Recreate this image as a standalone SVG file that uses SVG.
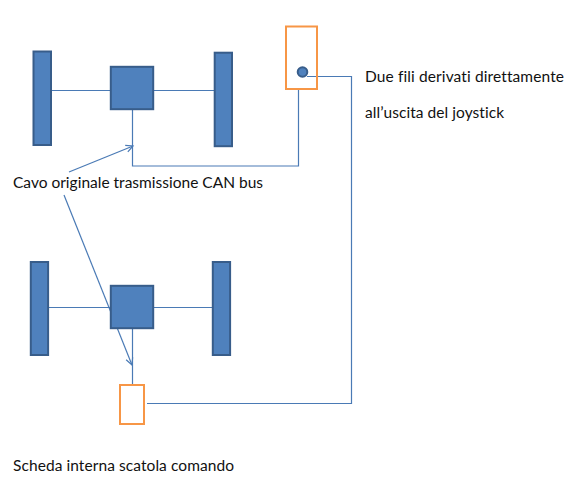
<svg xmlns="http://www.w3.org/2000/svg" width="582" height="487" viewBox="0 0 582 487">
<style>
.b{fill:#4f81bd;stroke:#385d8a;stroke-width:2}
.o{fill:#fff;stroke:#f79646;stroke-width:2}
.l{fill:none;stroke:#4a7ab5;stroke-width:1.2}
.t{font-family:Lato,"Open Sans",sans-serif;font-size:15.5px;fill:#111;font-variant-ligatures:none}
</style>
<defs><marker id="a" markerUnits="userSpaceOnUse" markerWidth="12" markerHeight="12" refX="8" refY="5" orient="auto"><path d="M1 1.500L8 5L1 8.500" fill="none" stroke="#4a7ab5" stroke-width="1.2"/></marker></defs>
<rect width="582" height="487" fill="#fff"/>
<g id="connectors">
<path class="l" d="M51 90.500H110M153 90.500H215"/>
<path class="l" d="M48 307.500H110M153 307.500H213"/>
<path class="l" d="M132.500 109V166H298.500V89"/>
<path class="l" d="M307 76.500H351.500V403.500H147"/>
<path class="l" d="M132.500 328V385"/>
<path class="l" d="M69 172L133 146" marker-end="url(#a)"/>
<path class="l" d="M64 195L132 365" marker-end="url(#a)"/>
</g>
<g id="wheel-top-left"><rect class="b" x="33.500" y="51.500" width="17.500" height="93.500"/></g>
<g id="hub-top"><rect class="b" x="110.800" y="66.800" width="42.400" height="42.400"/></g>
<g id="wheel-top-right"><rect class="b" x="214.700" y="52.700" width="17.300" height="93.500"/></g>
<g id="joystick"><rect x="286" y="26.500" width="31" height="62.500" fill="none" stroke="#f79646" stroke-width="2"/><circle class="b" cx="302.500" cy="72" r="4.800"/></g>
<g id="wheel-bottom-left"><rect class="b" x="30.800" y="262" width="17.300" height="93"/></g>
<g id="hub-bottom"><rect class="b" x="110.800" y="285.800" width="42.400" height="42.400"/></g>
<g id="wheel-bottom-right"><rect class="b" x="212.800" y="262" width="17.300" height="93"/></g>
<g id="scheda"><rect class="o" x="120" y="385" width="24" height="39"/></g>
<g id="labels">
<text class="t" x="365" y="82" textLength="199">Due fili derivati direttamente</text>
<text class="t" x="365" y="118" textLength="139">all’uscita del joystick</text>
<text class="t" x="13" y="188" textLength="250">Cavo originale trasmissione CAN bus</text>
<text class="t" x="13" y="471" textLength="221">Scheda interna scatola comando</text>
</g>
</svg>
